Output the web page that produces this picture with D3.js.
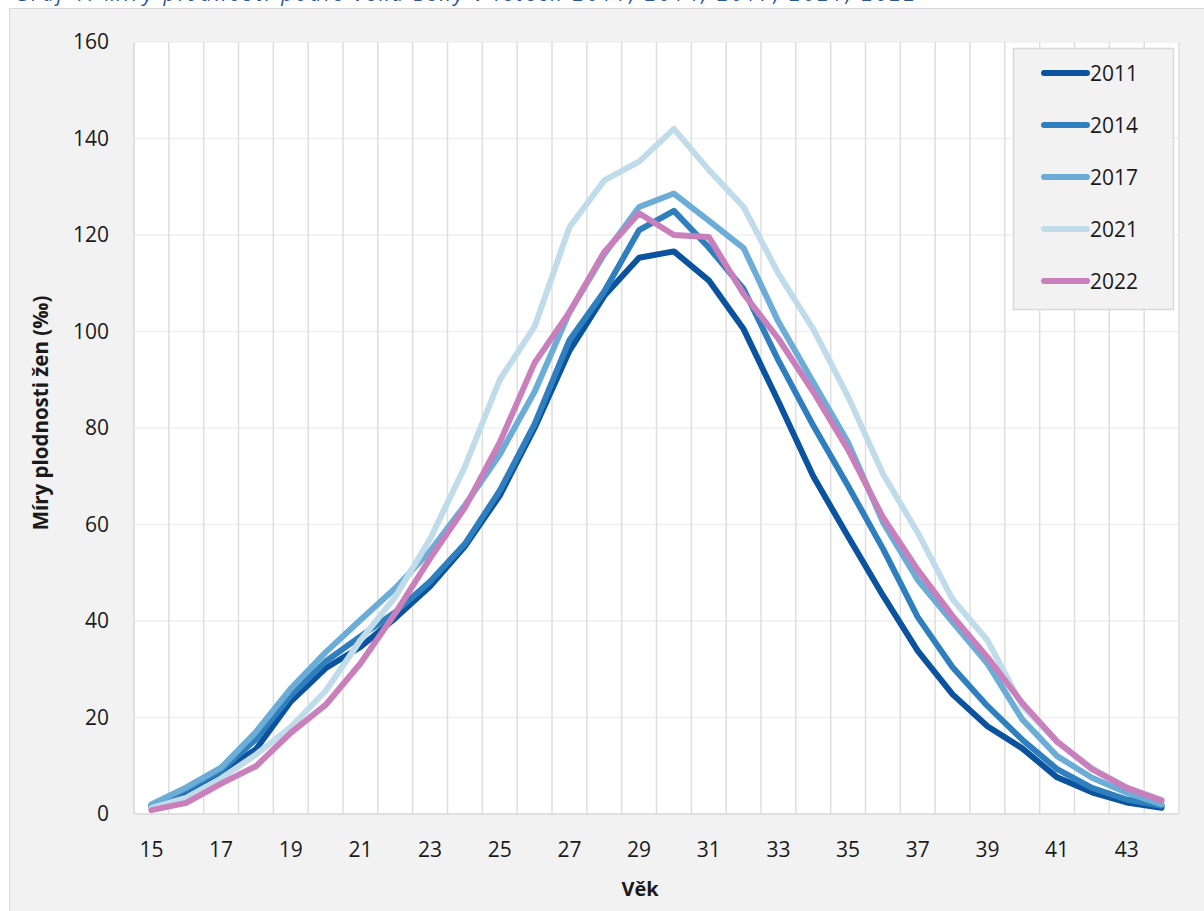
<!DOCTYPE html>
<html lang="cs">
<head>
<meta charset="utf-8">
<title>Míry plodnosti podle věku</title>
<script src="https://cdn.jsdelivr.net/npm/d3@7/dist/d3.min.js"></script>
<style>
  html, body { margin: 0; padding: 0; background: #ffffff; }
  svg { display: block; }
  .tick text { font-family: "Open Sans", "Liberation Sans", sans-serif; font-size: 21px; fill: #1a1a1a; }
</style>
</head>
<body>
<svg id="chart" width="1204" height="911"></svg>
<script>
// Věk ženy (roky)
const ages = d3.range(15, 45);

// Míry plodnosti podle věku (‰)
const rates2011 = [1.5, 4.6, 8.7, 13.4, 23.3, 30.2, 34.6, 40.6, 47.2, 55.5, 66.0, 80.0, 96.0, 107.4, 115.3, 116.6, 110.6, 100.5, 85.5, 70.0, 57.5, 45.3, 33.8, 24.8, 18.2, 13.6, 7.6, 4.5, 2.4, 1.3];
const rates2014 = [1.8, 5.0, 9.0, 15.5, 24.6, 31.6, 36.8, 41.8, 48.2, 56.0, 67.0, 80.8, 98.2, 108.3, 121.0, 125.0, 117.4, 108.8, 94.0, 80.5, 68.0, 55.0, 40.8, 30.4, 22.4, 15.4, 9.3, 5.4, 3.0, 1.7];
const rates2017 = [2.0, 5.5, 9.6, 17.0, 26.0, 33.5, 40.2, 46.8, 54.5, 64.0, 74.5, 87.5, 104.0, 116.0, 125.8, 128.6, 123.0, 117.3, 102.0, 89.5, 77.0, 60.5, 48.5, 39.8, 31.2, 19.6, 12.0, 7.5, 4.4, 2.0];
const rates2021 = [1.2, 3.4, 7.4, 12.3, 18.0, 25.5, 36.0, 45.0, 57.0, 72.0, 90.0, 101.0, 121.6, 131.3, 135.2, 142.0, 133.5, 125.8, 112.0, 100.5, 86.5, 70.5, 58.3, 44.5, 36.0, 22.4, 15.0, 9.5, 5.5, 3.0];
const rates2022 = [0.8, 2.3, 6.3, 9.9, 16.8, 22.6, 31.2, 41.6, 53.0, 63.5, 77.0, 93.5, 104.0, 116.5, 124.5, 120.0, 119.6, 107.8, 98.5, 87.5, 75.5, 61.5, 50.6, 41.0, 32.5, 23.0, 15.0, 9.3, 5.4, 2.8];

const seriesNames = ["2011", "2014", "2017", "2021", "2022"];
const seriesValues = [rates2011, rates2014, rates2017, rates2021, rates2022];
const seriesColors = ["#0b539e", "#2f7fbe", "#6badd7", "#c0dbea", "#c97fbc"];

const yTicks = [0, 20, 40, 60, 80, 100, 120, 140, 160];
const xTickLabels = [15, 17, 19, 21, 23, 25, 27, 29, 31, 33, 35, 37, 39, 41, 43];

const titleText = "Graf 1: Míry plodnosti podle věku ženy v letech 2011, 2014, 2017, 2021, 2022";
const xTitle = "Věk";
const yTitle = "Míry plodnosti žen (‰)";

const svg = d3.select("#chart");
const plot = { left: 134, right: 1179, top: 42, bottom: 814 };

// Chart title sits above the frame, its upper part beyond the top edge
svg.append("text")
  .attr("x", 15).attr("y", 1)
  .attr("textLength", 900).attr("lengthAdjust", "spacing")
  .style("font-family", "'Open Sans', 'Liberation Sans', sans-serif")
  .style("font-style", "italic")
  .style("font-size", "20px")
  .style("fill", "#2a5597")
  .text(titleText);

svg.append("rect")
  .attr("x", 9.5).attr("y", 8.5)
  .attr("width", 1220).attr("height", 930)
  .attr("fill", "#f2f2f2").attr("stroke", "#d9d9d9").attr("stroke-width", 1);

svg.append("rect")
  .attr("x", plot.left).attr("y", plot.top)
  .attr("width", plot.right - plot.left).attr("height", plot.bottom - plot.top)
  .attr("fill", "#ffffff");

const x = d3.scaleBand().domain(ages).range([plot.left, plot.right]).padding(0);
const y = d3.scaleLinear().domain([0, 160]).range([plot.bottom, plot.top]);
const cx = a => x(a) + x.bandwidth() / 2;

// Horizontal gridlines
svg.append("g").selectAll("line")
  .data(yTicks.filter(v => v > 0))
  .join("line")
  .attr("x1", plot.left).attr("x2", plot.right)
  .attr("y1", d => y(d)).attr("y2", d => y(d))
  .attr("stroke", "#efefef").attr("stroke-width", 1.5);

// Vertical gridlines between age categories
const boundaries = ages.map(a => x(a)).concat([plot.right]);
svg.append("g").selectAll("line")
  .data(boundaries.slice(1))
  .join("line")
  .attr("x1", d => d).attr("x2", d => d)
  .attr("y1", plot.top).attr("y2", plot.bottom)
  .attr("stroke", "#dedede").attr("stroke-width", 1.5);

// Axis lines
svg.append("line")
  .attr("x1", plot.left).attr("x2", plot.left)
  .attr("y1", plot.top).attr("y2", plot.bottom)
  .attr("stroke", "#d9d9d9").attr("stroke-width", 1.5);
svg.append("line")
  .attr("x1", plot.left).attr("x2", plot.right)
  .attr("y1", plot.bottom).attr("y2", plot.bottom)
  .attr("stroke", "#d9d9d9").attr("stroke-width", 1.5);

// Axes (labels only)
const yAxis = svg.append("g")
  .attr("transform", `translate(${plot.left},0)`)
  .call(d3.axisLeft(y).tickValues(yTicks).tickSize(0).tickPadding(25).tickFormat(d3.format("d")));
yAxis.select(".domain").remove();

const xAxis = svg.append("g")
  .attr("transform", `translate(0,${plot.bottom})`)
  .call(d3.axisBottom(x).tickValues(xTickLabels).tickSize(0).tickPadding(28));
xAxis.select(".domain").remove();

// Series lines
const line = d3.line()
  .x((d, i) => cx(ages[i]))
  .y(d => y(d));

svg.append("g").selectAll("path")
  .data(seriesValues)
  .join("path")
  .attr("d", d => line(d))
  .attr("fill", "none")
  .attr("stroke", (d, i) => seriesColors[i])
  .attr("stroke-width", 6)
  .attr("stroke-linejoin", "round")
  .attr("stroke-linecap", "round");

// Axis titles
svg.append("text")
  .attr("x", 640).attr("y", 888)
  .attr("text-anchor", "middle").attr("dominant-baseline", "central")
  .style("font-family", "'Open Sans', 'Liberation Sans', sans-serif")
  .style("font-weight", "bold").style("font-size", "20px").style("fill", "#1a1a1a")
  .text(xTitle);

svg.append("text")
  .attr("transform", "translate(40,413) rotate(-90)")
  .attr("text-anchor", "middle").attr("dominant-baseline", "central")
  .style("font-family", "'Open Sans', 'Liberation Sans', sans-serif")
  .style("font-weight", "bold").style("font-size", "20.5px").style("fill", "#1a1a1a")
  .text(yTitle);

// Legend
const legend = svg.append("g");
legend.append("rect")
  .attr("x", 1013.5).attr("y", 48.5).attr("width", 160).attr("height", 261)
  .attr("fill", "#f2f2f2").attr("stroke", "#d9d9d9").attr("stroke-width", 1.5);

const legendY = d3.scalePoint().domain(seriesNames).range([73, 281]);
const items = legend.selectAll("g.item")
  .data(seriesNames)
  .join("g").attr("class", "item")
  .attr("transform", d => `translate(0,${legendY(d)})`);
items.append("line")
  .attr("x1", 1044).attr("x2", 1087)
  .attr("stroke", (d, i) => seriesColors[i])
  .attr("stroke-width", 6).attr("stroke-linecap", "round");
items.append("text")
  .attr("x", 1090).attr("y", 0)
  .attr("dominant-baseline", "central")
  .style("font-family", "'Open Sans', 'Liberation Sans', sans-serif")
  .style("font-size", "21px").style("fill", "#1a1a1a")
  .text(d => d);
</script>
</body>
</html>
